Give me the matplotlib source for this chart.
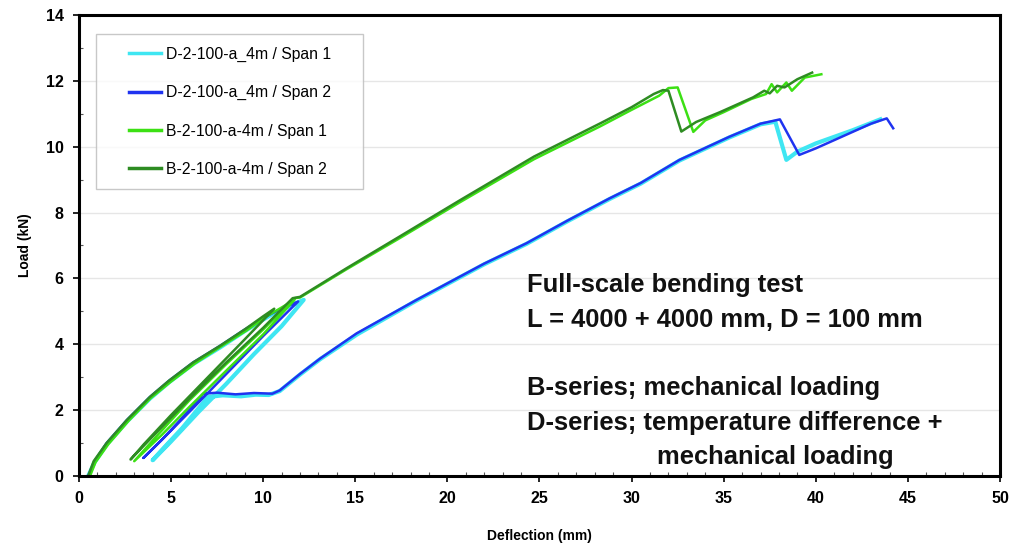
import numpy as np
import matplotlib.pyplot as plt
from matplotlib.ticker import MultipleLocator

plt.rcParams["font.family"] = ["Liberation Sans", "DejaVu Sans"]

# ── Daten ────────────────────────────────────────────────────────────────────
# D-2-100-a_4m / Span 1
d1_x = [0.5, 0.85, 1.5, 2.6, 3.85, 4.9, 6.2, 7.65, 9.0, 10.0, 10.6, 11.4, 12.2,
        11.0, 9.5, 8.0, 6.5, 5.0, 4.0,
        4.6, 5.6, 7.0, 7.8, 8.8, 9.6, 10.3,
        10.9, 12.0, 13.1, 15.1, 18.3, 20.0, 22.0, 24.3, 26.5, 28.8, 30.5, 32.6, 35.3, 37.0, 37.8,
        38.4, 39.0, 40.0, 41.0, 42.0, 43.0, 43.5]
d1_y = [0.0, 0.42, 0.95, 1.65, 2.35, 2.85, 3.4, 3.9, 4.4, 4.75, 4.95, 5.15, 5.35,
        4.55, 3.7, 2.8, 1.95, 1.05, 0.48,
        0.85, 1.45, 2.4, 2.45, 2.42, 2.47, 2.46,
        2.58, 3.08, 3.55, 4.3, 5.32, 5.83, 6.43, 7.05, 7.73, 8.41, 8.88, 9.58, 10.28, 10.68, 10.76,
        9.6, 9.85, 10.1, 10.3, 10.5, 10.72, 10.83]

# D-2-100-a_4m / Span 2
d2_x = [0.5, 0.85, 1.5, 2.6, 3.85, 4.9, 6.2, 7.65, 9.0, 10.0, 10.7, 11.3, 11.9,
        10.0, 8.0, 6.0, 4.5, 3.5,
        4.5, 5.5, 6.75, 7.5, 8.5, 9.5, 10.5,
        10.9, 12.0, 13.1, 15.07, 18.3, 20.0, 22.0, 24.3, 26.5, 28.8, 30.5, 32.6, 35.3, 37.0, 38.05,
        39.1, 40.0, 41.0, 42.0, 43.0, 43.85, 44.2]
d2_y = [0.0, 0.45, 1.0, 1.7, 2.4, 2.9, 3.45, 3.95, 4.45, 4.8, 5.0, 5.15, 5.3,
        4.25, 3.1, 1.95, 1.1, 0.55,
        1.1, 1.7, 2.5, 2.53, 2.48, 2.52, 2.5,
        2.6, 3.1, 3.57, 4.33, 5.34, 5.85, 6.45, 7.07, 7.75, 8.43, 8.9, 9.6, 10.3, 10.7, 10.83,
        9.75, 9.95, 10.2, 10.45, 10.7, 10.86, 10.56]

# B-2-100-a-4m / Span 1
b1_x = [0.6, 0.9, 1.6, 2.7, 3.9, 5.0, 6.3, 7.7, 9.1, 10.1, 10.8, 11.7,
        10.0, 8.0, 6.0, 4.5, 3.0,
        4.2, 6.0, 8.0, 10.0, 11.7,
        12.0, 14.5, 17.4, 20.7, 24.7, 28.3, 30.0, 31.5, 32.0, 32.5,
        33.35, 34.0, 35.0, 36.5, 37.3, 37.6, 37.9, 38.4, 38.7, 39.4, 40.3]
b1_y = [0.0, 0.42, 0.97, 1.68, 2.37, 2.87, 3.42, 3.93, 4.42, 4.82, 5.05, 5.35,
        4.3, 3.2, 2.1, 1.25, 0.45,
        1.2, 2.3, 3.4, 4.45, 5.4,
        5.42, 6.27, 7.22, 8.32, 9.62, 10.62, 11.12, 11.55, 11.78, 11.8,
        10.45, 10.8, 11.05, 11.45, 11.6, 11.9, 11.65, 11.95, 11.7, 12.1, 12.2]

# B-2-100-a-4m / Span 2
b2_x = [0.5, 0.8, 1.5, 2.6, 3.85, 4.9, 6.2, 7.65, 9.0, 10.0, 10.6,
        9.0, 7.0, 5.0, 3.5, 2.8,
        4.0, 6.0, 8.0, 10.0, 11.6,
        12.0, 14.5, 17.4, 20.7, 24.7, 28.3, 30.0, 31.2, 31.7, 32.0,
        32.7, 33.5, 34.8, 36.6, 37.2, 37.5, 37.9, 38.3, 39.0, 39.8]
b2_y = [0.0, 0.45, 1.0, 1.7, 2.4, 2.9, 3.45, 3.95, 4.45, 4.85, 5.08,
        4.15, 3.0, 1.85, 0.95, 0.5,
        1.2, 2.35, 3.45, 4.5, 5.4,
        5.44, 6.3, 7.27, 8.38, 9.7, 10.71, 11.2, 11.6, 11.72, 11.7,
        10.46, 10.75, 11.05, 11.5, 11.7, 11.62, 11.85, 11.8, 12.05, 12.25]

series = [
    (d1_x, d1_y, "D-2-100-a_4m / Span 1", "#3fe6f2", 3.0),
    (d2_x, d2_y, "D-2-100-a_4m / Span 2", "#1f33f0", 1.8),
    (b1_x, b1_y, "B-2-100-a-4m / Span 1", "#3ce014", 1.8),
    (b2_x, b2_y, "B-2-100-a-4m / Span 2", "#2e8c22", 1.8),
]

note = ("Full-scale bending test\n"
        "L = 4000 + 4000 mm, D = 100 mm\n"
        "\n"
        "B-series; mechanical loading\n"
        "D-series; temperature difference +")
note_last = "mechanical loading"

# ── Figure & Axes ─────────────────────────────────────────────────────────────
fig = plt.figure(figsize=(10.24, 5.45), dpi=100)
ax = fig.add_axes([0.0771, 0.1266, 0.8995, 0.8459])

for x, y, lab, col, lw in series:
    ax.plot(x, y, color=col, lw=lw, label=lab, solid_joinstyle="round")

ax.set_xlim(0, 50)
ax.set_ylim(0, 14)
ax.xaxis.set_major_locator(MultipleLocator(5))
ax.xaxis.set_minor_locator(MultipleLocator(1))
ax.yaxis.set_major_locator(MultipleLocator(2))
ax.yaxis.set_minor_locator(MultipleLocator(1))
ax.tick_params(which="major", direction="out", length=4, width=1.2,
               labelsize=11.5, pad=7)
ax.tick_params(which="minor", direction="in", length=3, width=0.8,
               color="#555555")
for lbl in ax.get_xticklabels() + ax.get_yticklabels():
    lbl.set_fontweight("bold")

ax.grid(axis="y", which="major", color="#e6e6e6", lw=1.0)
ax.set_axisbelow(True)
for sp in ax.spines.values():
    sp.set_linewidth(2.2)

ax.set_xlabel("Deflection (mm)", fontsize=10, fontweight="bold", labelpad=16)
ax.set_ylabel("Load (kN)", fontsize=10, fontweight="bold", labelpad=10)

ax.text(24.3, 6.15, note, fontsize=18.4, fontweight="bold", va="top",
        ha="left", linespacing=1.54, color="#111111")
ax.text(31.4, 0.95, note_last, fontsize=18.4, fontweight="bold", va="top",
        ha="left", color="#111111")

leg = ax.legend(loc="upper left", bbox_to_anchor=(0.019, 0.958, 0.289, 0.0),
                mode="expand", fontsize=11.3, frameon=True, fancybox=False,
                edgecolor="#bbbbbb", borderpad=0.8, labelspacing=1.48,
                handlelength=3.3, handletextpad=0.3, borderaxespad=0)
leg.get_frame().set_linewidth(1.0)
for h in leg.get_lines():
    h.set_linewidth(2.5)
    xd = np.asarray(h.get_xdata(), dtype=float)
    yd = np.asarray(h.get_ydata(), dtype=float)
    lo, hi = xd.min(), xd.max()
    h.set_data([lo + (hi - lo) * 0.385, hi], [yd[0], yd[0]])

fig.savefig("out.png", dpi=100)
